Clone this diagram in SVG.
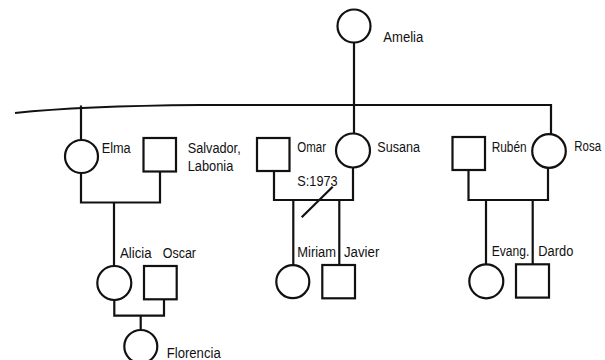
<svg xmlns="http://www.w3.org/2000/svg" width="605" height="360" viewBox="0 0 605 360">
<style>
.s{fill:none;stroke:#111;stroke-width:2.2}
.c{fill:none;stroke:#111;stroke-width:2.2}
text{font-family:"Liberation Sans",Arial,sans-serif;font-size:15.5px;fill:#111}
</style>
<rect width="605" height="360" fill="#fff"/>
<g id="connectors" class="c">
<path d="M354,42.5 V133.5"/>
<path d="M15,113 Q80,106 200,105 L551,105 V134"/>
<path d="M81,105.5 V140"/>
<path d="M81,173 V202.5 H160 V171.5"/>
<path d="M114,202.5 V266"/>
<path d="M114.3,300 V315.7 H164 V299.3"/>
<path d="M140.7,315.7 V330"/>
<path d="M274,171 V200 H353 V167.5"/>
<path d="M293.3,200 V265.3"/>
<path d="M339.3,200 V265"/>
<path d="M301.7,217.3 L332.7,186.7"/>
<path d="M468.5,170 V200 H548 V167.7"/>
<path d="M486,200 V264.3"/>
<path d="M532.7,200 V264.3"/>
</g>
<g id="amelia"><circle class="s" cx="354" cy="26" r="16.5"/><text x="383.3" y="41.7" textLength="40" lengthAdjust="spacingAndGlyphs">Amelia</text></g>
<g id="elma"><circle class="s" cx="81.5" cy="156.5" r="16.5"/><text x="101.7" y="153" textLength="29" lengthAdjust="spacingAndGlyphs">Elma</text></g>
<g id="salvador"><rect class="s" x="143.5" y="138" width="32.5" height="33.5"/><text x="187.7" y="153" textLength="53" lengthAdjust="spacingAndGlyphs">Salvador,</text><text x="187.7" y="171.3" textLength="45.6" lengthAdjust="spacingAndGlyphs">Labonia</text></g>
<g id="omar"><rect class="s" x="257" y="138" width="32.5" height="33"/><text x="297.3" y="151.7" textLength="28.7" lengthAdjust="spacingAndGlyphs">Omar</text></g>
<g id="susana"><circle class="s" cx="353" cy="150.5" r="17"/><text x="377.3" y="151.7" textLength="42.7" lengthAdjust="spacingAndGlyphs">Susana</text></g>
<g id="separation"><text x="297.3" y="185.5" textLength="40.3" lengthAdjust="spacingAndGlyphs">S:1973</text></g>
<g id="ruben"><rect class="s" x="452.5" y="137" width="32.5" height="33"/><text x="491.7" y="151.7" textLength="35" lengthAdjust="spacingAndGlyphs">Rubén</text></g>
<g id="rosa"><circle class="s" cx="549" cy="151" r="16.8"/><text x="574.3" y="151.3" textLength="26.7" lengthAdjust="spacingAndGlyphs">Rosa</text></g>
<g id="alicia"><circle class="s" cx="114.3" cy="283" r="17"/><text x="120" y="258" textLength="31.7" lengthAdjust="spacingAndGlyphs">Alicia</text></g>
<g id="oscar"><rect class="s" x="144" y="266" width="32.7" height="33.3"/><text x="162.7" y="258" textLength="33.3" lengthAdjust="spacingAndGlyphs">Oscar</text></g>
<g id="florencia"><circle class="s" cx="140.8" cy="346.5" r="16.5"/><text x="166.7" y="358" textLength="54" lengthAdjust="spacingAndGlyphs">Florencia</text></g>
<g id="miriam"><circle class="s" cx="292.8" cy="281.7" r="16.5"/><text x="297.3" y="257" textLength="38.7" lengthAdjust="spacingAndGlyphs">Miriam</text></g>
<g id="javier"><rect class="s" x="322.3" y="265" width="32.7" height="33.3"/><text x="344" y="257" textLength="35.3" lengthAdjust="spacingAndGlyphs">Javier</text></g>
<g id="evang"><circle class="s" cx="486.3" cy="281.3" r="17"/><text x="491.7" y="256" textLength="37.6" lengthAdjust="spacingAndGlyphs">Evang.</text></g>
<g id="dardo"><rect class="s" x="516" y="264.3" width="33" height="33.3"/><text x="538.3" y="256" textLength="35" lengthAdjust="spacingAndGlyphs">Dardo</text></g>
</svg>
